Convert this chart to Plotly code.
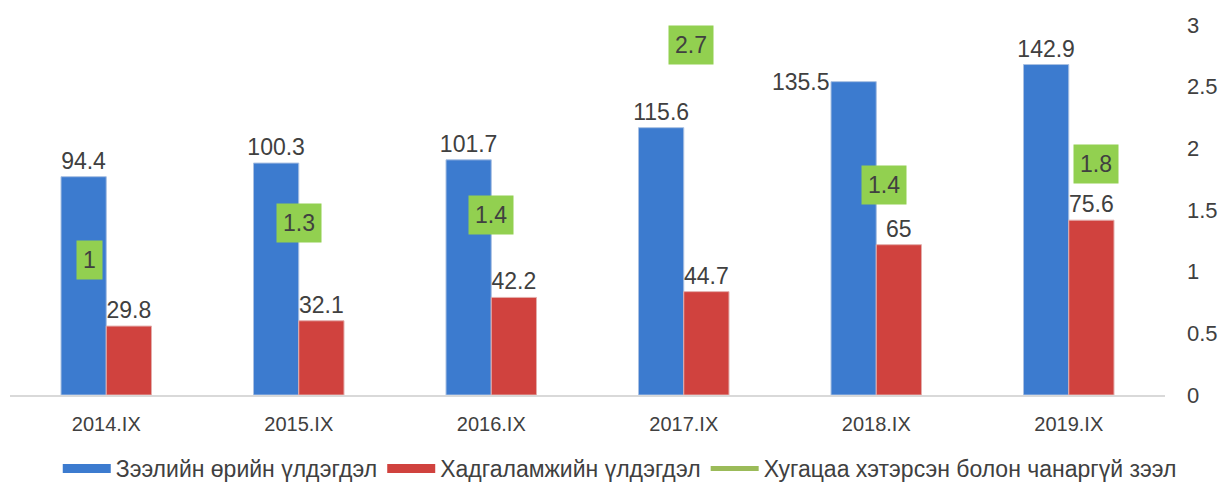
import plotly.graph_objects as go

categories = ["2014.IX", "2015.IX", "2016.IX", "2017.IX", "2018.IX", "2019.IX"]
loans = [94.4, 100.3, 101.7, 115.6, 135.5, 142.9]
savings = [29.8, 32.1, 42.2, 44.7, 65, 75.6]
overdue = [1, 1.3, 1.4, 2.7, 1.4, 1.8]

name_loans = "Зээлийн өрийн үлдэгдэл"
name_savings = "Хадгаламжийн үлдэгдэл"
name_overdue = "Хугацаа хэтэрсэн болон чанаргүй зээл"

# pixel offsets for the overdue labels (relative to category centre / value)
label_dx = [-17, 0, 0, 7, 8, 27]
label_dy = [12, 12, 7, 17, 37, 9]

FONT = "Liberation Sans, Arial, sans-serif"
TXT = "#404040"
BLUE = "#3c7bcf"
RED = "#d0423e"
GREEN_LINE = "#9bbb59"
GREEN_BOX = "#92d050"

fig = go.Figure()
# loans: label for 2018 is placed to the left of the bar (handled via annotation)
loan_text = [f"{v:g}" for v in loans]
loan_text[4] = ""
fig.add_trace(go.Bar(
    x=categories, y=loans, name=name_loans, showlegend=False,
    marker=dict(color=BLUE, line=dict(color="#a9c0e2", width=1)),
    text=loan_text, textposition="outside", constraintext="none",
    textfont=dict(size=23, color=TXT, family=FONT), cliponaxis=False,
))
fig.add_trace(go.Bar(
    x=categories, y=savings, name=name_savings, showlegend=False,
    marker=dict(color=RED, line=dict(color="#e3aeac", width=1)),
    text=[f"{v:g}" for v in savings], textposition="outside", constraintext="none",
    textfont=dict(size=23, color=TXT, family=FONT), cliponaxis=False,
))
fig.add_annotation(
    x=categories[4], y=loans[4], xref="x", yref="y", text=f"{loans[4]:g}",
    showarrow=False, xanchor="right", yanchor="middle", xshift=-44, yshift=0,
    font=dict(size=23, color=TXT, family=FONT),
)

# legend entries (bar-like swatches and the green line)
fig.add_trace(go.Scatter(x=categories, y=[None] * 6, name=name_loans, mode="lines",
                         line=dict(color=BLUE, width=9)))
fig.add_trace(go.Scatter(x=categories, y=[None] * 6, name=name_savings, mode="lines",
                         line=dict(color=RED, width=9)))
fig.add_trace(go.Scatter(x=categories, y=[None] * 6, name=name_overdue, mode="lines",
                         line=dict(color=GREEN_LINE, width=5), yaxis="y2"))

for c, v, dx, dy in zip(categories, overdue, label_dx, label_dy):
    fig.add_annotation(
        x=c, y=v, xref="x", yref="y2", text=f"{v:g}", showarrow=False,
        xshift=dx, yshift=dy, bgcolor=GREEN_BOX, borderpad=6,
        font=dict(size=23, color=TXT, family=FONT),
    )

fig.update_layout(
    width=1220, height=486,
    margin=dict(l=10, r=55, t=25, b=91, autoexpand=False),
    paper_bgcolor="white", plot_bgcolor="white",
    barmode="group", bargap=0.53, bargroupgap=0.0,
    font=dict(family=FONT, color=TXT),
    showlegend=True,
    legend=dict(orientation="h", xref="container", yref="container",
                x=0.508, xanchor="center", y=0.036, yanchor="middle",
                font=dict(size=23, color=TXT, family=FONT), itemwidth=48,
                tracegroupgap=0),
    xaxis=dict(showgrid=False, showline=True, linecolor="#d9d9d9", linewidth=2,
               ticks="", tickfont=dict(size=20, color=TXT, family=FONT),
               ticklabelstandoff=10),
    yaxis=dict(range=[0, 160], visible=False),
    yaxis2=dict(range=[0, 3], overlaying="y", side="right", showgrid=False,
                showline=False, zeroline=False, dtick=0.5, ticks="",
                tickfont=dict(size=22, color=TXT, family=FONT),
                ticklabelstandoff=21, automargin=False),
)

fig.write_html("out.html", config={"displayModeBar": False},
               post_script="document.body.style.margin='0';")
